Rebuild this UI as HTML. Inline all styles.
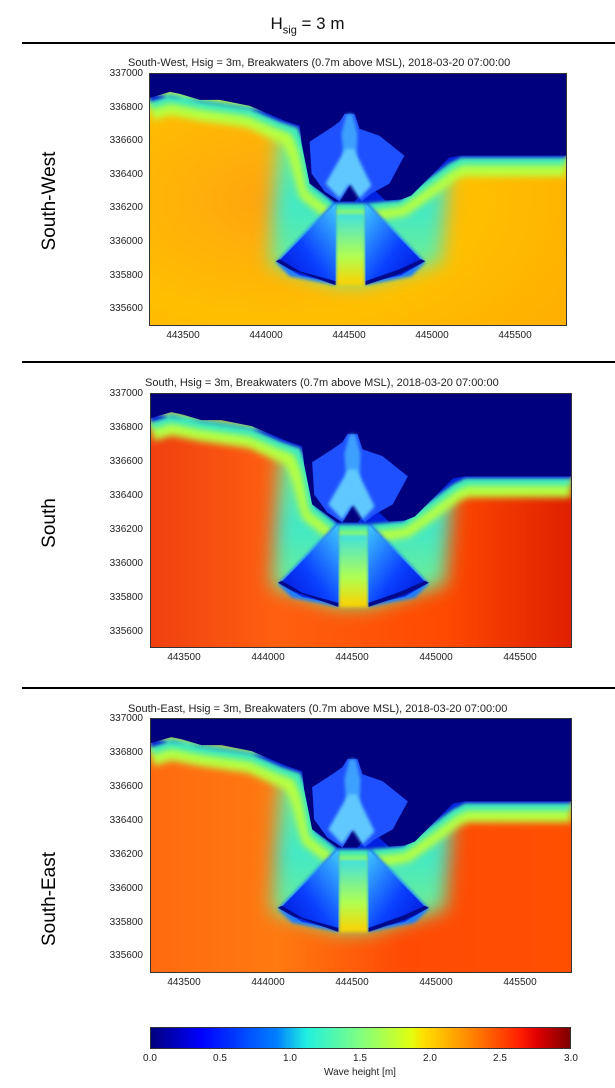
<!DOCTYPE html>
<html><head><meta charset="utf-8"><style>
body{margin:0;width:615px;height:1088px;background:#fff;position:relative;font-family:"Liberation Sans",sans-serif;overflow:hidden}
.t{position:absolute;font-size:11px;color:#222;white-space:nowrap}
.hr{position:absolute;left:22px;right:0;height:2px;background:#000}
.side{position:absolute;font-size:19px;transform:rotate(-90deg);transform-origin:center;white-space:nowrap;text-align:center;width:200px}
.plot{position:absolute;border:1px solid #333;box-sizing:border-box;overflow:hidden}
.yl{position:absolute;font-size:10px;color:#222;text-align:right;width:45px}
.xl{position:absolute;font-size:10px;color:#222;width:60px;text-align:center}
</style></head><body>
<div class="t" style="left:0;width:615px;text-align:center;top:14px;font-size:17px;color:#111">H<sub style="font-size:11px">sig</sub> = 3 m</div>
<div class="hr" style="top:42px"></div>
<div class="hr" style="top:361px"></div>
<div class="hr" style="top:687px"></div>

<svg width="0" height="0" style="position:absolute">
<defs>
<filter id="b" x="-20%" y="-20%" width="140%" height="140%"><feGaussianBlur stdDeviation="9"/></filter>
<filter id="b3" x="-20%" y="-20%" width="140%" height="140%"><feGaussianBlur stdDeviation="3.5"/></filter>
<filter id="b2"><feGaussianBlur stdDeviation="1.5"/></filter>
<linearGradient id="tl" x1="1" y1="0" x2="0" y2="1"><stop offset="0" stop-color="#40c8ff"/><stop offset=".55" stop-color="#0a40ff"/><stop offset="1" stop-color="#0010d0"/></linearGradient>
<linearGradient id="tr" x1="0" y1="0" x2="1" y2="1"><stop offset="0" stop-color="#40c8ff"/><stop offset=".55" stop-color="#0a40ff"/><stop offset="1" stop-color="#0010d0"/></linearGradient>
<linearGradient id="fan" x1="0" y1="0" x2="0" y2="1"><stop offset="0" stop-color="#70f090"/><stop offset=".5" stop-color="#40e8c8"/><stop offset="1" stop-color="#80f080"/></linearGradient>
<linearGradient id="gap" x1="0" y1="0" x2="0" y2="1"><stop offset="0" stop-color="#40e0e0"/><stop offset=".6" stop-color="#b0ff50"/><stop offset="1" stop-color="#ffd000"/></linearGradient>
<g id="shapes">
<polygon filter="url(#b)" fill="url(#fan)" points="128,60 152,56 162,110 185,130 216,130 262,118 300,88 292,190 216,212 186,212 120,192"/>
<polyline filter="url(#b3)" fill="none" stroke="#b8ff40" stroke-width="22" points="0,36 20,30 50,36 100,43 128,56 142,62 150,80 160,118 185,138 216,138 252,132 272,118 302,96 314,92 417,92"/>
<polyline filter="url(#b3)" fill="none" stroke="#30e8c8" stroke-width="10" points="0,30 20,24 50,30 100,37 130,50 146,56 154,75 162,114 185,132 216,132 250,128 270,114 300,92 312,86 417,86"/>
<polygon filter="url(#b2)" fill="url(#gap)" points="186,140 216,140 216,212 186,212"/>
<polygon filter="url(#b2)" fill="#1a7cff" points="126,189 186,127 186,212 140,203"/>
<polygon filter="url(#b2)" fill="#1a7cff" points="216,127 276,189 262,203 216,212"/>
<polygon fill="url(#tl)" points="128,189 186,130 186,210 150,202"/>
<polygon fill="url(#tr)" points="216,130 274,189 252,202 216,210"/>
<polygon fill="#000a8a" points="126,188 140,196 186,212 186,208 150,198 130,186"/>
<polygon fill="#000a8a" points="276,188 252,200 216,212 216,208 250,196 272,186"/>
<polygon filter="url(#b2)" fill="#0020e0" points="0,28 20,22 50,28 100,35 130,48 148,54 156,75 163,112 185,130 216,130 250,127 270,112 300,90 312,84 417,84 417,80 0,20"/>
<polygon fill="#00007f" points="0,0 417,0 417,82 312,82 300,84 262,122 252,126 236,127 220,112 205,128 195,128 185,128 160,110 152,70 150,52 135,47 100,32 70,26 50,26 30,20 20,18 0,24"/>
<polygon fill="#1e50ff" points="160,68 180,55 190,48 195,40 205,40 210,55 230,62 255,82 240,110 222,120 212,128 202,108 190,128 175,118 162,100"/>
<polygon filter="url(#b2)" fill="#3da0ff" points="192,60 197,40 203,40 208,60 206,110 196,110"/>
<polygon filter="url(#b2)" fill="#60c8ff" points="176,110 196,75 204,75 222,112 210,125 200,110 190,125"/>
</g>
</defs></svg>

<!-- Panel 1 -->
<div class="t" style="left:128px;top:57px">South-West, Hsig = 3m, Breakwaters (0.7m above MSL), 2018-03-20 07:00:00</div>
<div class="side" style="left:-50px;top:190px">South-West</div>
<div class="plot" style="left:149px;top:73px;width:418px;height:253px">
<svg width="416" height="251" viewBox="0 0 417 252" preserveAspectRatio="none">
<defs><radialGradient id="g1" cx=".3" cy=".5" r=".8"><stop offset="0" stop-color="#ffa410"/><stop offset=".6" stop-color="#ffbf00"/><stop offset="1" stop-color="#ffb000"/></radialGradient></defs>
<rect width="417" height="252" fill="url(#g1)"/>
<use href="#shapes"/>
</svg></div>
<div class="yl" style="left:98px;top:68px">337000</div>
<div class="yl" style="left:98px;top:102px">336800</div>
<div class="yl" style="left:98px;top:135px">336600</div>
<div class="yl" style="left:98px;top:169px">336400</div>
<div class="yl" style="left:98px;top:202px">336200</div>
<div class="yl" style="left:98px;top:236px">336000</div>
<div class="yl" style="left:98px;top:270px">335800</div>
<div class="yl" style="left:98px;top:303px">335600</div>
<div class="xl" style="left:153px;top:330px">443500</div>
<div class="xl" style="left:236px;top:330px">444000</div>
<div class="xl" style="left:319px;top:330px">444500</div>
<div class="xl" style="left:402px;top:330px">445000</div>
<div class="xl" style="left:485px;top:330px">445500</div>

<!-- Panel 2 -->
<div class="t" style="left:145px;top:377px">South, Hsig = 3m, Breakwaters (0.7m above MSL), 2018-03-20 07:00:00</div>
<div class="side" style="left:-50px;top:512px">South</div>
<div class="plot" style="left:150px;top:393px;width:422px;height:255px">
<svg width="420" height="253" viewBox="0 0 417 252" preserveAspectRatio="none">
<defs><linearGradient id="g2" x1="0" y1="0" x2="1" y2="0"><stop offset="0" stop-color="#f04010"/><stop offset=".3" stop-color="#ff6010"/><stop offset=".7" stop-color="#ff4a00"/><stop offset="1" stop-color="#e02000"/></linearGradient></defs>
<rect width="417" height="252" fill="url(#g2)"/>
<use href="#shapes"/>
</svg></div>
<div class="yl" style="left:98px;top:388px">337000</div>
<div class="yl" style="left:98px;top:422px">336800</div>
<div class="yl" style="left:98px;top:456px">336600</div>
<div class="yl" style="left:98px;top:490px">336400</div>
<div class="yl" style="left:98px;top:524px">336200</div>
<div class="yl" style="left:98px;top:558px">336000</div>
<div class="yl" style="left:98px;top:592px">335800</div>
<div class="yl" style="left:98px;top:626px">335600</div>
<div class="xl" style="left:154px;top:652px">443500</div>
<div class="xl" style="left:238px;top:652px">444000</div>
<div class="xl" style="left:322px;top:652px">444500</div>
<div class="xl" style="left:406px;top:652px">445000</div>
<div class="xl" style="left:490px;top:652px">445500</div>

<!-- Panel 3 -->
<div class="t" style="left:128px;top:703px">South-East, Hsig = 3m, Breakwaters (0.7m above MSL), 2018-03-20 07:00:00</div>
<div class="side" style="left:-50px;top:888px">South-East</div>
<div class="plot" style="left:150px;top:718px;width:422px;height:255px">
<svg width="420" height="253" viewBox="0 0 417 252" preserveAspectRatio="none">
<defs><linearGradient id="g3" x1="0" y1="0" x2="1" y2="0"><stop offset="0" stop-color="#ff6a10"/><stop offset=".3" stop-color="#ff7a10"/><stop offset=".6" stop-color="#ff4a05"/><stop offset="1" stop-color="#ff5000"/></linearGradient></defs>
<rect width="417" height="252" fill="url(#g3)"/>
<use href="#shapes"/>
</svg></div>
<div class="yl" style="left:98px;top:713px">337000</div>
<div class="yl" style="left:98px;top:747px">336800</div>
<div class="yl" style="left:98px;top:781px">336600</div>
<div class="yl" style="left:98px;top:815px">336400</div>
<div class="yl" style="left:98px;top:849px">336200</div>
<div class="yl" style="left:98px;top:883px">336000</div>
<div class="yl" style="left:98px;top:917px">335800</div>
<div class="yl" style="left:98px;top:950px">335600</div>
<div class="xl" style="left:154px;top:977px">443500</div>
<div class="xl" style="left:238px;top:977px">444000</div>
<div class="xl" style="left:322px;top:977px">444500</div>
<div class="xl" style="left:406px;top:977px">445000</div>
<div class="xl" style="left:490px;top:977px">445500</div>

<!-- Colorbar -->
<div style="position:absolute;left:150px;top:1027px;width:421px;height:22px;border:1px solid #333;box-sizing:border-box;background:linear-gradient(to right,#00007f 0%,#0000ff 12%,#0080ff 30%,#1ff0e0 37%,#80ff80 50%,#e0ff10 62%,#ffe000 65%,#ff8000 77%,#ff2000 88%,#e00000 92%,#7f0000 100%)"></div>
<div class="xl" style="left:120px;top:1053px">0.0</div>
<div class="xl" style="left:190px;top:1053px">0.5</div>
<div class="xl" style="left:260px;top:1053px">1.0</div>
<div class="xl" style="left:330px;top:1053px">1.5</div>
<div class="xl" style="left:400px;top:1053px">2.0</div>
<div class="xl" style="left:470px;top:1053px">2.5</div>
<div class="xl" style="left:541px;top:1053px">3.0</div>
<div class="t" style="left:0;width:720px;text-align:center;top:1067px;font-size:10px">Wave height [m]</div>
</body></html>
